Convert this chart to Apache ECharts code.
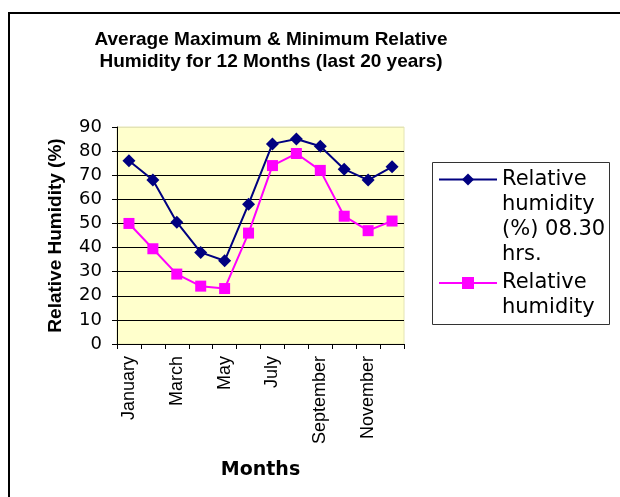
<!DOCTYPE html>
<html>
<head>
<meta charset="utf-8">
<script src="https://cdn.jsdelivr.net/npm/echarts@6/dist/echarts.min.js"></script>
<style>html,body{margin:0;padding:0;background:#fff;}#main{width:620px;height:497px;}</style>
</head>
<body>
<div id="main"></div>
<script>
const months = ['January','February','March','April','May','June','July','August','September','October','November','December'];
const humidityMorning = [76, 68, 50.5, 38, 34.5, 58, 83, 85, 82, 72.5, 68, 73.5];
const humidityEvening = [50, 39.5, 29, 24, 23, 46, 74, 79, 72, 53, 47, 51];
const seriesNames = ['Relative humidity (%) 08.30 hrs.', 'Relative humidity'];
const legendLines = [['Relative','humidity','(%) 08.30','hrs.'], ['Relative','humidity']];
const yTicks = {min: 0, max: 90, interval: 10};
const titleLines = ['Average Maximum & Minimum Relative', 'Humidity for 12 Months (last 20 years)'];

const LH = 25;
function legendFor(idx, top) {
  const n = legendLines[idx].length;
  const blanks = new Array(n - 1).fill(' ');
  return {
    data: [seriesNames[idx]],
    left: 438, top: top, orient: 'vertical', padding: 0,
    itemWidth: 58, itemHeight: 15,
    formatter: () => blanks.concat(legendLines[idx]).join('\n'),
    textStyle: {fontFamily: 'DejaVu Sans', fontSize: 21, color: '#000', lineHeight: LH},
    selectedMode: false
  };
}

const borderCol = '#E4E4B4';
const nLines = (yTicks.max - yTicks.min) / yTicks.interval + 1;
const splitColors = [];
for (let i = 0; i < nLines; i++) splitColors.push(i === nLines - 1 ? borderCol : '#000');

const chart = echarts.init(document.getElementById('main'), null, {renderer: 'canvas'});
chart.setOption({
  animation: false,
  backgroundColor: '#fff',
  title: {
    text: titleLines.join('\n'),
    left: 271, top: 29, padding: 0, textAlign: 'center',
    textStyle: {fontFamily: 'Liberation Sans', fontWeight: 'bold', fontSize: 19, lineHeight: 22, color: '#000'}
  },
  legend: [legendFor(0, 92), legendFor(1, 245.5)],
  grid: {left: 117, right: 216, top: 127, bottom: 153, show: true, backgroundColor: '#FFFFCC', borderColor: borderCol, borderWidth: 1},
  xAxis: {
    type: 'category', data: months, boundaryGap: true,
    name: 'Months', nameLocation: 'middle', nameGap: 117,
    nameTextStyle: {fontFamily: 'DejaVu Sans', fontWeight: 'bold', fontSize: 19, color: '#000'},
    axisLine: {lineStyle: {color: '#000', width: 1}},
    axisTick: {show: true, interval: 0, length: 5, lineStyle: {color: '#000'}},
    axisLabel: {interval: 1, rotate: 90, margin: 12, fontFamily: 'Liberation Sans', fontSize: 18, color: '#000'},
    splitLine: {show: false}
  },
  yAxis: {
    type: 'value', min: yTicks.min, max: yTicks.max, interval: yTicks.interval,
    name: 'Relative Humidity (%)', nameLocation: 'middle', nameGap: 52, nameRotate: 90,
    nameTextStyle: {fontFamily: 'Liberation Sans', fontWeight: 'bold', fontSize: 19, color: '#000'},
    axisLine: {show: true, lineStyle: {color: '#000', width: 1}},
    axisTick: {show: true, length: 5, lineStyle: {color: '#000'}},
    axisLabel: {margin: 15, fontFamily: 'DejaVu Sans', fontSize: 18, color: '#000'},
    splitLine: {show: true, lineStyle: {color: splitColors, width: 1}}
  },
  graphic: [
    {type: 'rect', shape: {x: 9, y: 13, width: 640, height: 520}, style: {fill: 'none', stroke: '#000', lineWidth: 2}, silent: true, z: 100},
    {type: 'rect', shape: {x: 432.5, y: 162.5, width: 177, height: 162}, style: {fill: 'none', stroke: '#333', lineWidth: 1}, silent: true, z: 100}
  ],
  series: [
    {name: seriesNames[0], type: 'line', data: humidityMorning, symbol: 'diamond', symbolSize: 13,
     lineStyle: {color: '#000080', width: 2}, itemStyle: {color: '#000080'}},
    {name: seriesNames[1], type: 'line', data: humidityEvening, symbol: 'rect', symbolSize: 11,
     lineStyle: {color: '#FF00FF', width: 2}, itemStyle: {color: '#FF00FF'}}
  ]
});
</script>
</body>
</html>
